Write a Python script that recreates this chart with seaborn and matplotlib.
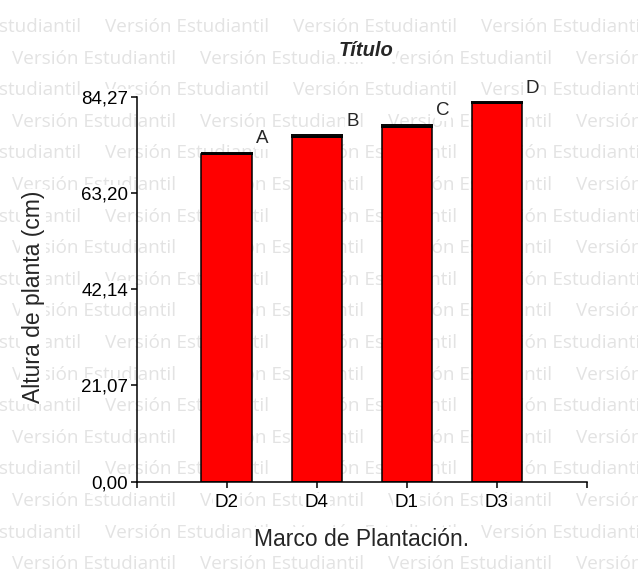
import numpy as np
import pandas as pd
import seaborn as sns
import matplotlib.pyplot as plt

# datos
tratamientos = ["D2", "D4", "D1", "D3"]
altura = [71.66, 75.51, 77.70, 82.82]
error_est = [0.35, 0.31, 0.44, 0.29]
letras = ["A", "B", "C", "D"]
y_ticks = [0.00, 21.07, 42.14, 63.20, 84.27]

df = pd.DataFrame({"Marco": tratamientos, "Altura": altura})

sns.set_style("white")
plt.rcParams["font.family"] = ["Liberation Sans", "DejaVu Sans"]

W, H = 638, 573
fig = plt.figure(figsize=(W / 100, H / 100), dpi=100)
ax = fig.add_axes([136.7 / W, 1 - 481.7 / H, 450 / W, 385 / H])
ax.patch.set_alpha(0)

# marca de agua "Versión Estudiantil" (ancho ~163 px)
marca = "Versión Estudiantil"
prueba = fig.text(0, 0, marca, fontsize=12, family="Open Sans")
ancho = prueba.get_window_extent(fig.canvas.get_renderer()).width
prueba.remove()
tam_marca = 12 * 163 / ancho

for fila in range(18):
    y = 32 + 31.6 * fila
    x0 = -83 if fila % 2 == 0 else 12
    for k in range(5):
        fig.text((x0 + 188 * k) / W, 1 - y / H, marca,
                 fontsize=tam_marca, color="#e3e3e3", family="Open Sans",
                 ha="left", va="baseline", zorder=-10)

sns.barplot(data=df, x="Marco", y="Altura", order=tratamientos,
            color="#ff0000", saturation=1, edgecolor="black", linewidth=1.1,
            width=0.56, errorbar=None, ax=ax)

ax.errorbar(np.arange(len(altura)), altura,
            yerr=[np.zeros(len(altura)), error_est],
            fmt="none", ecolor="black", elinewidth=1, capsize=19,
            capthick=1.4, zorder=3)

caja = dict(facecolor="white", edgecolor="none", pad=1)

for i, letra in enumerate(letras):
    ax.annotate(letra, (i + 0.4, altura[i] + error_est[i]),
                xytext=(0, 10), textcoords="offset points",
                ha="center", va="center", fontsize=13.5, bbox=caja)

ax.set_xlim(-1, 4)
ax.set_ylim(0, 84.27)
ax.set_xticks(range(-1, 5))
ax.set_xticklabels([""] + tratamientos + [""])
ax.set_yticks(y_ticks)
ax.set_yticklabels([f"{v:.2f}".replace(".", ",") for v in y_ticks])

sns.despine(ax=ax)
for lado in ["left", "bottom"]:
    ax.spines[lado].set_color("black")
    ax.spines[lado].set_linewidth(1.1)

ax.tick_params(axis="both", direction="out", length=4, width=1.1,
               color="black", labelsize=13.5, labelcolor="black",
               bottom=True, left=True)
ax.tick_params(axis="x", pad=5)
ax.tick_params(axis="y", pad=2)
for t in ax.get_xticklabels() + ax.get_yticklabels():
    t.set_bbox(caja)

ax.set_xlabel("Marco de Plantación.", fontsize=16.5, va="center", bbox=caja)
ax.set_ylabel("Altura de planta (cm)", fontsize=16.5, va="center", bbox=caja)
ax.xaxis.set_label_coords(0.5, -0.151)
ax.yaxis.set_label_coords(-0.23, 0.48)

ax.set_title("Título", x=0.509, y=1.121, va="center", pad=0, fontsize=14.5,
             fontweight="bold", fontstyle="italic",
             bbox=dict(facecolor="white", edgecolor="none", pad=2))

fig.savefig("out.png", dpi=100)
